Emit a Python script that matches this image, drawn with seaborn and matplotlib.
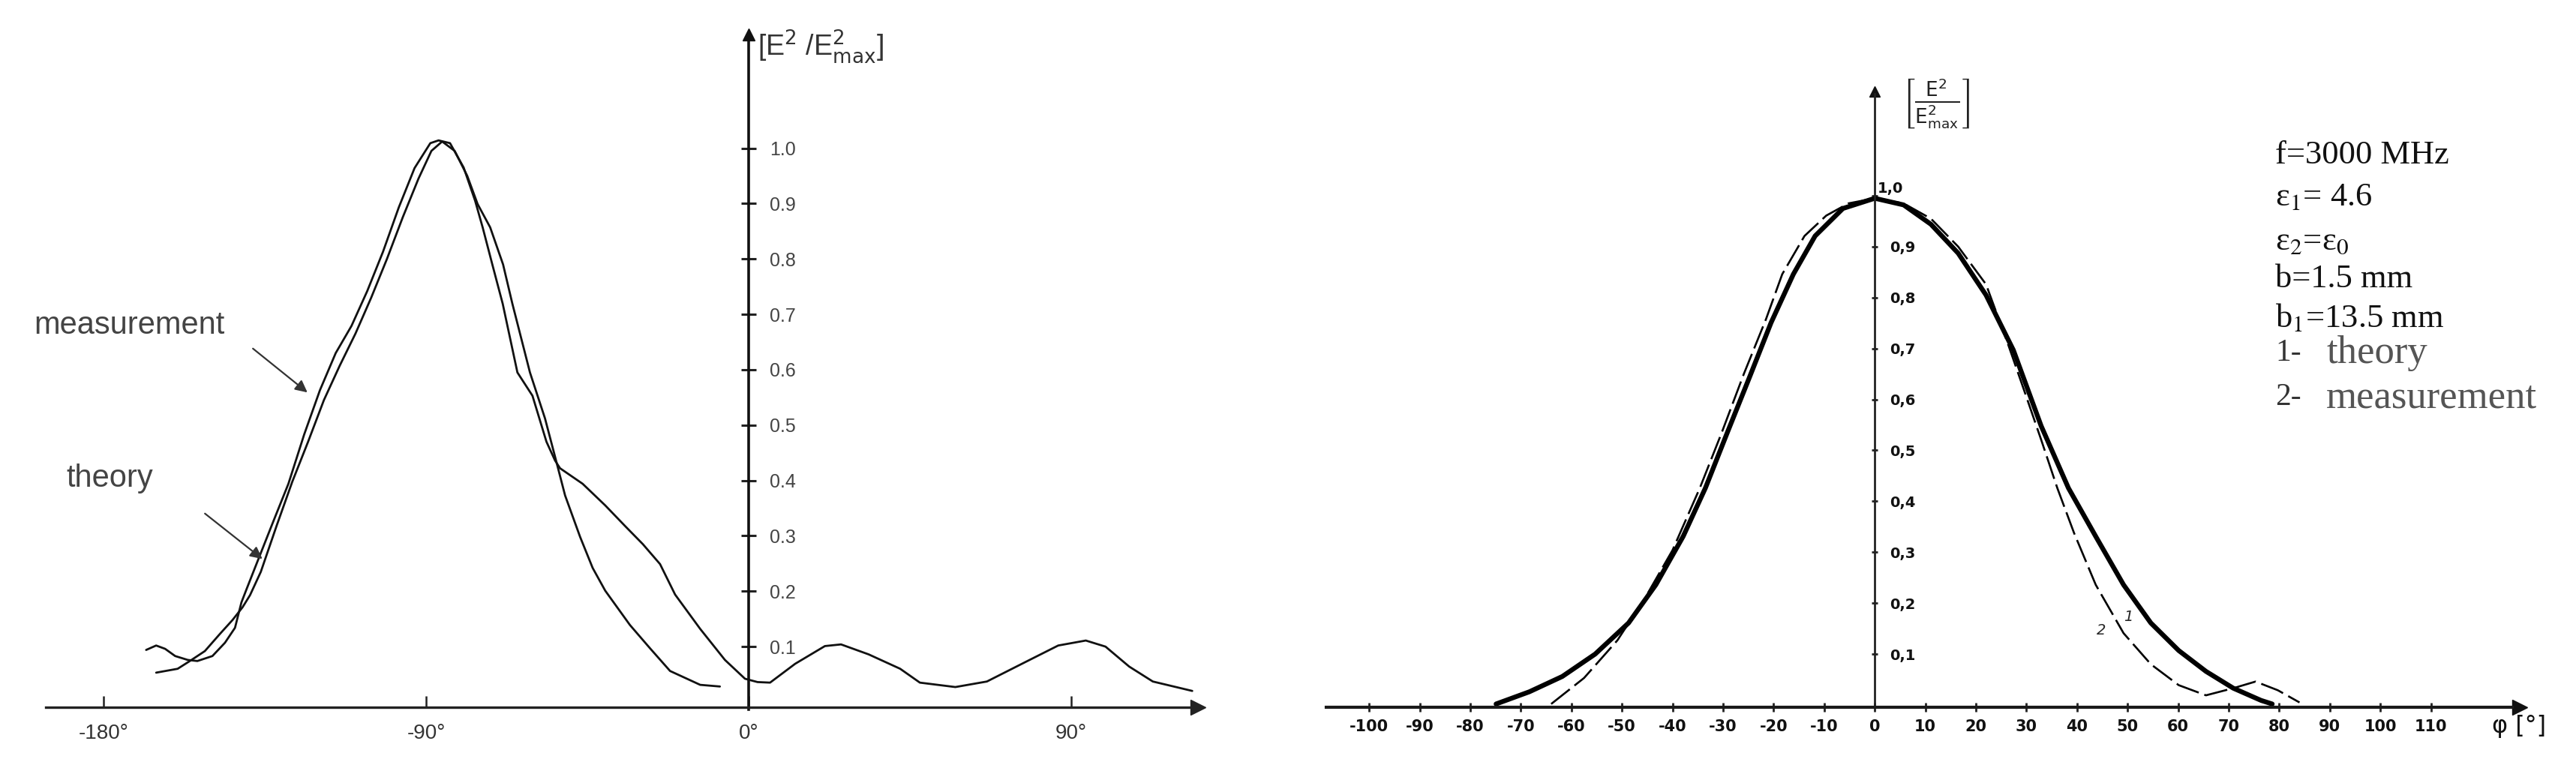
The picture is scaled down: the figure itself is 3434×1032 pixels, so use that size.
import matplotlib
matplotlib.use("Agg")
import matplotlib.pyplot as plt
import seaborn as sns

W, H = 3434, 1032

# ---------------- left panel data ----------------
left_xticks = [-180, -90, 0, 90]
left_xticklabels = ["-180°", "-90°", "0°", "90°"]
left_yticks = [0.1, 0.2, 0.3, 0.4, 0.5, 0.6, 0.7, 0.8, 0.9, 1.0]
left_yticklabels = ["0.1", "0.2", "0.3", "0.4", "0.5", "0.6", "0.7", "0.8", "0.9", "1.0"]

meas_L_deg = [-168.1, -165.3, -162.8, -160.0, -156.5, -153.8, -149.6, -146.1, -143.3, -141.5,
              -140.0, -137.2, -132.8, -128.4, -124.0, -119.6, -115.2, -110.8, -106.4, -102.0,
              -97.6, -93.2, -88.8, -86.5, -83.3, -79.5, -76.3, -74.2, -71.5, -68.6,
              -64.5, -60.3, -56.4, -54.0, -52.6, -46.3, -40.0, -34.5, -29.5, -24.7,
              -20.5, -13.5, -6.6, -1.0, 2.5, 6.0, 13.0, 21.3, 25.8, 33.5,
              42.3, 47.8, 57.7, 66.5, 77.5, 86.4, 94.1, 99.6, 106.2, 112.8, 123.8]
meas_L_val = [0.094, 0.102, 0.096, 0.083, 0.076, 0.074, 0.083, 0.107, 0.134, 0.180,
              0.205, 0.251, 0.323, 0.394, 0.483, 0.563, 0.630, 0.679, 0.742, 0.813,
              0.893, 0.964, 1.009, 1.014, 1.009, 0.965, 0.905, 0.857, 0.790, 0.719,
              0.595, 0.553, 0.470, 0.436, 0.422, 0.394, 0.355, 0.318, 0.285, 0.249,
              0.194, 0.132, 0.076, 0.042, 0.036, 0.035, 0.069, 0.101, 0.104, 0.086,
              0.060, 0.035, 0.027, 0.037, 0.073, 0.102, 0.111, 0.100, 0.064, 0.037, 0.020]

theo_L_deg = [-165.3, -159.3, -155.9, -151.7, -147.5, -144.0, -141.2, -139.1, -136.1, -131.7,
              -127.3, -122.9, -118.5, -114.1, -109.7, -105.3, -100.9, -96.5, -92.1, -88.5,
              -85.5, -82.0, -78.5, -75.6, -72.1, -68.5, -65.9, -61.0, -56.8, -54.0,
              -51.2, -47.0, -43.5, -40.0, -33.1, -27.5, -21.9, -13.5, -8.0]
theo_L_val = [0.053, 0.060, 0.074, 0.092, 0.123, 0.148, 0.171, 0.193, 0.235, 0.318,
              0.398, 0.470, 0.545, 0.607, 0.665, 0.730, 0.800, 0.875, 0.945, 0.995,
              1.012, 0.995, 0.950, 0.899, 0.857, 0.790, 0.719, 0.595, 0.512, 0.443,
              0.373, 0.298, 0.242, 0.201, 0.139, 0.097, 0.056, 0.031, 0.028]

# ---------------- right panel data ----------------
right_xticks = [-100, -90, -80, -70, -60, -50, -40, -30, -20, -10, 0,
                10, 20, 30, 40, 50, 60, 70, 80, 90, 100, 110]
right_xticklabels = ["-100", "-90", "-80", "-70", "-60", "-50", "-40", "-30", "-20", "-10", "0",
                     "10", "20", "30", "40", "50", "60", "70", "80", "90", "100", "110"]
right_yticks = [0.1, 0.2, 0.3, 0.4, 0.5, 0.6, 0.7, 0.8, 0.9, 1.0]
right_yticklabels = ["0,1", "0,2", "0,3", "0,4", "0,5", "0,6", "0,7", "0,8", "0,9", "1,0"]

theo_R_deg = [-74.9, -68.3, -61.8, -55.3, -48.7, -43.3, -37.9, -33.5, -29.2, -24.8,
              -20.5, -16.1, -11.8, -6.3, 0.0, 5.7, 11.1, 16.5, 22.0, 27.4,
              32.9, 38.3, 43.7, 49.2, 54.6, 60.1, 65.5, 70.9, 76.4, 78.6]
theo_R_val = [0.002, 0.026, 0.056, 0.100, 0.161, 0.236, 0.331, 0.426, 0.534, 0.643,
              0.751, 0.846, 0.921, 0.975, 0.995, 0.982, 0.944, 0.887, 0.805, 0.697,
              0.548, 0.426, 0.331, 0.236, 0.161, 0.107, 0.066, 0.033, 0.009, 0.002]

meas_R_deg = [-64.0, -57.5, -50.9, -45.5, -40.0, -34.6, -30.3, -25.9, -21.5, -18.3,
              -13.9, -9.6, -5.2, 0.0, 5.7, 11.1, 16.5, 22.0, 26.3, 29.6,
              32.9, 36.1, 39.4, 43.7, 49.2, 54.6, 60.1, 65.5, 70.9, 75.3,
              79.7, 84.0]
meas_R_val = [0.002, 0.053, 0.127, 0.209, 0.304, 0.426, 0.534, 0.650, 0.758, 0.846,
              0.921, 0.961, 0.985, 0.995, 0.985, 0.955, 0.900, 0.826, 0.710, 0.616,
              0.521, 0.426, 0.338, 0.236, 0.141, 0.080, 0.039, 0.019, 0.033, 0.046,
              0.029, 0.005]

param_lines = ["f=3000 MHz", "ε$_1$= 4.6", "ε$_2$=ε$_0$", "b=1.5 mm", "b$_1$=13.5 mm"]
legend_nums = ["1-", "2-"]
legend_words = ["theory", "measurement"]

# ---------------- figure ----------------
sns.set_style("white")
plt.rcParams["font.family"] = ["Liberation Sans", "DejaVu Sans"]

fig = plt.figure(figsize=(W / 100, H / 100), dpi=100)


def fx(x):
    return x / W


def fy(y):
    return 1 - y / H


# ---------- left panel ----------
axL = fig.add_axes([40 / W, 22 / H, 1600 / W, 990 / H])
axL.set_xlim(-200.5, 134.4)
axL.set_ylim(-0.1002, 1.2404)
sns.lineplot(x=theo_L_deg, y=theo_L_val, ax=axL, color="#111111", lw=2.0,
             sort=False, estimator=None)
sns.lineplot(x=meas_L_deg, y=meas_L_val, ax=axL, color="#111111", lw=2.0,
             sort=False, estimator=None)

axL.spines["top"].set_visible(False)
axL.spines["left"].set_visible(False)
axL.spines["bottom"].set_position(("data", -0.009))
axL.spines["bottom"].set_bounds(-196, 124)
axL.spines["bottom"].set_linewidth(2.4)
axL.spines["bottom"].set_color("#222222")
axL.spines["right"].set_position(("data", 0))
axL.spines["right"].set_bounds(-0.014, 1.20)
axL.spines["right"].set_linewidth(2.6)
axL.spines["right"].set_color("#111111")
axL.yaxis.set_ticks_position("right")
axL.xaxis.set_ticks_position("bottom")
axL.set_xticks(left_xticks, left_xticklabels)
axL.set_yticks(left_yticks, left_yticklabels)
axL.tick_params(axis="x", direction="in", length=11, width=1.8, pad=16,
                labelsize=20, labelcolor="#333333", color="#222222")
axL.tick_params(axis="y", direction="inout", length=15, width=2.2, pad=13,
                labelsize=18, labelcolor="#444444", color="#222222")
axL.plot([125.5], [-0.009], marker=">", ms=14, color="#222222", clip_on=False)
axL.plot([0], [1.205], marker="^", ms=11, color="#111111", clip_on=False)
axL.set_xlabel("")
axL.set_ylabel("")

fig.text(fx(1010), fy(62), r"[E$^2$ /E$^2_{\mathrm{max}}$]", fontsize=27,
         va="center", ha="left", color="#333333", math_fontfamily="dejavusans")
fig.text(fx(45), fy(434), "measurement", fontsize=30, va="center", ha="left", color="#444444")
fig.text(fx(88), fy(638), "theory", fontsize=30, va="center", ha="left", color="#444444")
axL.annotate("", xy=(412, H - 525), xytext=(335, H - 463), xycoords="figure pixels",
             textcoords="figure pixels",
             arrowprops=dict(arrowstyle="-|>", color="#333333", lw=1.6, mutation_scale=24))
axL.annotate("", xy=(352, H - 747), xytext=(271, H - 683), xycoords="figure pixels",
             textcoords="figure pixels",
             arrowprops=dict(arrowstyle="-|>", color="#333333", lw=1.6, mutation_scale=24))

# ---------- right panel ----------
axR = fig.add_axes([1720 / W, 22 / H, 1700 / W, 990 / H])
axR.set_xlim(-115.6, 136.6)
axR.set_ylim(-0.1031, 1.3549)
sns.lineplot(x=theo_R_deg, y=theo_R_val, ax=axR, color="black", lw=4.6,
             sort=False, estimator=None)
sns.lineplot(x=meas_R_deg, y=meas_R_val, ax=axR, color="black", lw=1.9,
             linestyle=(0, (12, 3)), sort=False, estimator=None)

axR.spines["top"].set_visible(False)
axR.spines["left"].set_visible(False)
axR.spines["bottom"].set_position(("data", -0.004))
axR.spines["bottom"].set_bounds(-108.5, 126)
axR.spines["bottom"].set_linewidth(3.0)
axR.spines["bottom"].set_color("#1a1a1a")
axR.spines["right"].set_position(("data", 0))
axR.spines["right"].set_bounds(-0.004, 1.20)
axR.spines["right"].set_linewidth(2.0)
axR.spines["right"].set_color("#222222")
axR.yaxis.set_ticks_position("right")
axR.xaxis.set_ticks_position("bottom")
axR.set_xticks(right_xticks, right_xticklabels)
# the top label "1,0" sits above-left of its tick in the original, drawn separately below
axR.set_yticks(right_yticks, right_yticklabels[:-1] + [""])
axR.tick_params(axis="x", direction="inout", length=9, width=2.0, pad=7,
                labelsize=15, labelcolor="#111111", color="#222222")
axR.tick_params(axis="y", direction="inout", length=6, width=2.0, pad=11,
                labelsize=14, labelcolor="#111111", color="#222222")
for lab in axR.get_xticklabels() + axR.get_yticklabels():
    lab.set_fontweight("bold")
    lab.set_family(["DejaVu Sans"])
fig.text(fx(2503), fy(252), right_yticklabels[-1], fontsize=14, fontweight="bold",
         va="center", ha="left", color="#111111", family=["DejaVu Sans"])
axR.plot([127.5], [-0.004], marker=">", ms=14, color="#111111", clip_on=False)
axR.plot([0], [1.205], marker="^", ms=10, color="#111111", clip_on=False)
axR.set_xlabel("")
axR.set_ylabel("")

fig.text(fx(3322), fy(968), "φ [°]", fontsize=23, va="center", ha="left", color="#111111",
         family=["DejaVu Sans"])
fig.text(fx(2536), fy(138), r"$\left[\frac{\mathrm{E}^2}{\mathrm{E}^2_{\mathrm{max}}}\right]$",
         fontsize=27, va="center", ha="left", color="#222222", math_fontfamily="dejavusans")
fig.text(fx(2837), fy(822), "1", fontsize=14, va="center", ha="center", style="italic",
         family=["DejaVu Sans"])
fig.text(fx(2801), fy(841), "2", fontsize=14, va="center", ha="center", style="italic",
         family=["DejaVu Sans"])

block_y = [207, 263, 322, 372, 424]
for txt, yy in zip(param_lines, block_y):
    fig.text(fx(3033), fy(yy), txt, fontsize=32, va="center", ha="left", color="#111111",
             family=["Liberation Serif", "DejaVu Serif"], math_fontfamily="stix")
leg_y = [471, 530]
for num, word, yy in zip(legend_nums, legend_words, leg_y):
    fig.text(fx(3033), fy(yy), num, fontsize=30, va="center", ha="left", color="#333333",
             family=["Liberation Serif", "DejaVu Serif"])
    fig.text(fx(3101), fy(yy), word, fontsize=38, va="center", ha="left", color="#555555",
             family=["Liberation Serif", "DejaVu Serif"])

fig.savefig("out.png", dpi=100, facecolor="white")
